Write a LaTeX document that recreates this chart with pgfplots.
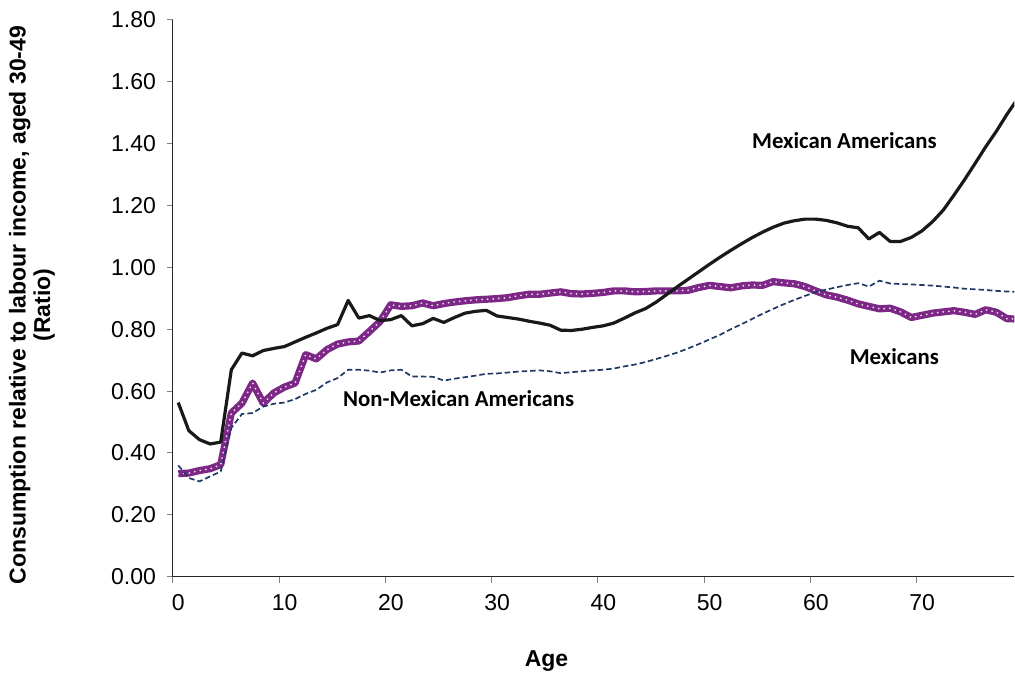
\documentclass[border=0pt]{standalone}
\usepackage{fontspec}
\setmainfont{Liberation Sans}
\newfontfamily\calibri{Carlito}
\usepackage{pgfplots}
\pgfplotsset{compat=1.18}
\usepackage{pgfplotstable}
\definecolor{mexpurple}{RGB}{125,40,135}
\definecolor{navy}{RGB}{31,56,100}

\pgfplotstableread{
age ma mx nm
0 0.563 0.333 0.360
1 0.472 0.335 0.319
2 0.443 0.343 0.308
3 0.429 0.349 0.324
4 0.435 0.362 0.340
5 0.669 0.529 0.481
6 0.723 0.561 0.526
7 0.714 0.626 0.529
8 0.731 0.561 0.550
9 0.738 0.594 0.559
10 0.744 0.613 0.563
11 0.759 0.626 0.574
12 0.774 0.718 0.591
13 0.788 0.704 0.604
14 0.803 0.734 0.628
15 0.815 0.752 0.642
16 0.893 0.759 0.669
17 0.836 0.762 0.669
18 0.844 0.793 0.666
19 0.828 0.825 0.660
20 0.831 0.879 0.667
21 0.844 0.874 0.669
22 0.811 0.876 0.647
23 0.818 0.885 0.647
24 0.835 0.876 0.646
25 0.822 0.883 0.634
26 0.838 0.888 0.640
27 0.852 0.892 0.645
28 0.858 0.895 0.650
29 0.861 0.897 0.656
30 0.843 0.899 0.657
31 0.838 0.902 0.660
32 0.833 0.908 0.663
33 0.826 0.913 0.665
34 0.820 0.913 0.667
35 0.813 0.917 0.664
36 0.797 0.921 0.658
37 0.796 0.915 0.661
38 0.800 0.914 0.664
39 0.806 0.916 0.667
40 0.811 0.919 0.669
41 0.820 0.924 0.673
42 0.836 0.924 0.680
43 0.853 0.921 0.686
44 0.867 0.922 0.694
45 0.888 0.924 0.704
46 0.913 0.924 0.714
47 0.938 0.924 0.725
48 0.962 0.926 0.738
49 0.986 0.935 0.752
50 1.010 0.942 0.767
51 1.033 0.938 0.782
52 1.055 0.934 0.800
53 1.076 0.940 0.816
54 1.096 0.943 0.833
55 1.114 0.942 0.850
56 1.130 0.954 0.866
57 1.143 0.950 0.881
58 1.151 0.947 0.895
59 1.156 0.938 0.908
60 1.156 0.924 0.920
61 1.152 0.911 0.928
62 1.144 0.904 0.936
63 1.133 0.894 0.943
64 1.128 0.882 0.949
65 1.092 0.874 0.938
66 1.113 0.866 0.957
67 1.084 0.868 0.948
68 1.084 0.856 0.946
69 1.097 0.838 0.945
70 1.118 0.845 0.943
71 1.148 0.852 0.941
72 1.185 0.856 0.938
73 1.233 0.860 0.935
74 1.283 0.855 0.931
75 1.336 0.848 0.929
76 1.390 0.863 0.927
77 1.440 0.855 0.924
78 1.495 0.834 0.922
79 1.545 0.833 0.921
}\data

\begin{document}
\begin{tikzpicture}
\begin{axis}[
  scale only axis, width=421pt, height=278.5pt,
  xmin=-0.5, xmax=78.7, ymin=0, ymax=1.8,
  axis x line*=bottom, axis y line*=left,
  axis line style={-, line width=0.6pt, black!85},
  xtick={-0.5,9.5,19.5,29.5,39.5,49.5,59.5,69.5},
  xticklabels={0,10,20,30,40,50,60,70},
  ytick={0,0.2,0.4,0.6,0.8,1.0,1.2,1.4,1.6,1.8},
  yticklabel style={/pgf/number format/fixed, /pgf/number format/fixed zerofill, /pgf/number format/precision=2, xshift=-2pt},
  /pgf/number format/assume math mode=true,
  tick align=outside, major tick length=3pt,
  tick style={gray, line width=0.5pt},
  ticklabel style={font=\fontsize{11.5}{13}\selectfont},
  xticklabel style={xshift=2.75pt, yshift=-2.5pt},
  xlabel={Age},
  xlabel style={at={(axis description cs:0.444,-0.151)}, anchor=center, font=\fontsize{11.5}{13}\selectfont\bfseries},
  ylabel={Consumption relative to labour income, aged 30-49\\(Ratio)},
  ylabel style={at={(axis description cs:-0.1675,0.488)}, anchor=center, align=center, font=\fontsize{11.5}{12.2}\selectfont\bfseries},
]
\addplot[mexpurple, line width=3.6pt, line join=round] table[x=age, y=mx] {\data};
\addplot[white!85!mexpurple, line width=1pt, line cap=round, dash pattern=on 0pt off 2.8pt] table[x=age, y=mx] {\data};
\addplot[navy, line width=0.85pt, dash pattern=on 2.75pt off 1.5pt] table[x=age, y=nm] {\data};
\addplot[black!90, line width=1.6pt, line join=round] table[x=age, y=ma] {\data};
\node[font=\calibri\fontsize{11.4}{13}\selectfont\bfseries] at (axis cs:62.7,1.409) {Mexican Americans};
\node[font=\calibri\fontsize{11.4}{13}\selectfont\bfseries] at (axis cs:67.4,0.711) {Mexicans};
\node[font=\calibri\fontsize{11.4}{13}\selectfont\bfseries] at (axis cs:26.4,0.575) {Non-Mexican Americans};
\end{axis}
\path[use as bounding box] (-86.5pt,-48pt) rectangle (421pt,288.5pt);
\end{tikzpicture}
\end{document}
